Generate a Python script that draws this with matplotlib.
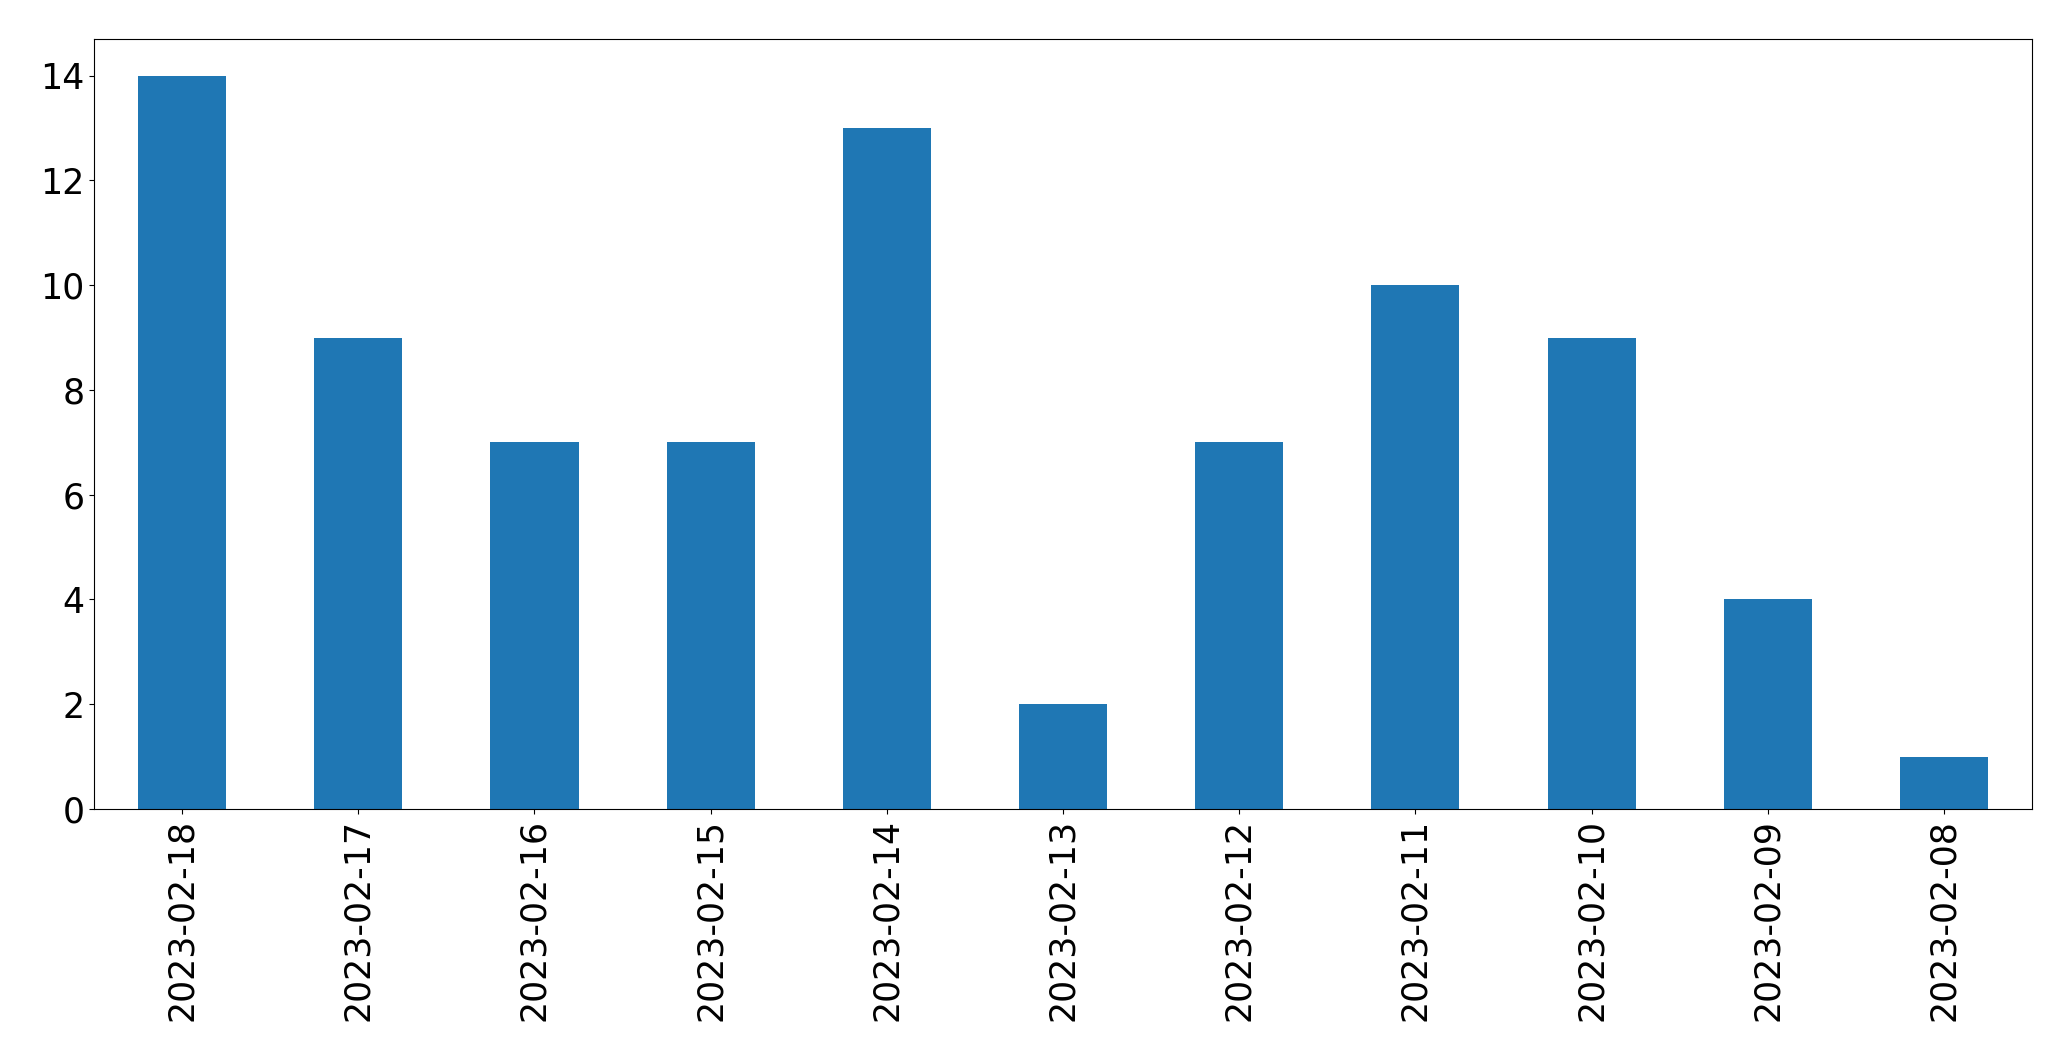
import matplotlib
matplotlib.use("Agg")
import matplotlib.pyplot as plt
import numpy as np

dates = ["2023-02-18", "2023-02-17", "2023-02-16", "2023-02-15", "2023-02-14",
         "2023-02-13", "2023-02-12", "2023-02-11", "2023-02-10", "2023-02-09",
         "2023-02-08"]
counts = [14, 9, 7, 7, 13, 2, 7, 10, 9, 4, 1]

fig = plt.figure(figsize=(20.71, 10.61), dpi=100)
ax = fig.add_axes([94/2071, 1-809/1061, (2032-94)/2071, (809-39)/1061])
x = np.arange(len(dates))
ax.bar(x, counts, width=0.5, color="#1f77b4")
ax.set_xlim(-0.5, len(dates) - 0.5)
ax.set_ylim(0, max(counts) * 1.05)
ax.set_xticks(x)
ax.set_xticklabels(dates, rotation=90, fontsize=25)
ax.set_yticks(np.arange(0, 15, 2))
ax.tick_params(axis="y", labelsize=25)
fig.savefig("out.png", dpi=100)
